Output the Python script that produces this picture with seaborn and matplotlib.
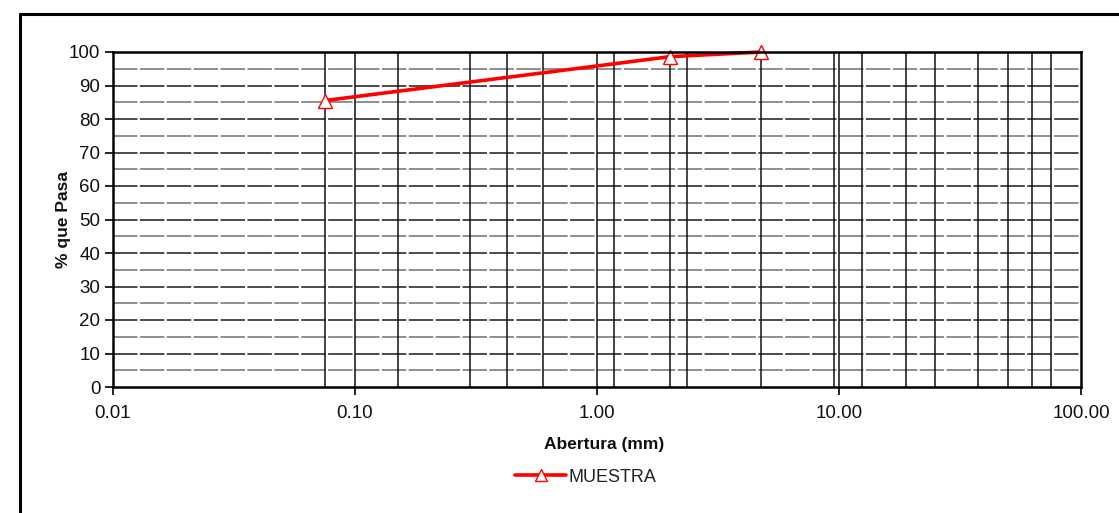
import matplotlib
matplotlib.use("Agg")
import matplotlib.pyplot as plt
from matplotlib.lines import Line2D
from matplotlib.ticker import FixedLocator, FixedFormatter, NullLocator
import seaborn as sns
import pandas as pd

# Granulometric curve data
abertura_mm = [0.075, 2.0, 4.75]
pct_pasa = [85.5, 98.6, 100.0]
serie = "MUESTRA"

# Sieve openings drawn as vertical reference lines (mm)
tamices = [0.075, 0.1, 0.15, 0.3, 0.425, 0.6, 1.0, 1.18, 2.0, 2.36, 4.75,
           9.5, 10.0, 12.5, 19.0, 25.0, 37.5, 50.0, 63.0, 75.0]

x_ticks = [0.01, 0.1, 1.0, 10.0, 100.0]
x_tick_labels = ["0.01", "0.10", "1.00", "10.00", "100.00"]
y_ticks = list(range(0, 101, 10))
y_minor = list(range(5, 100, 10))

sns.set_theme(style="white")
plt.rcParams["font.family"] = ["Liberation Sans", "DejaVu Sans"]

df = pd.DataFrame({"Abertura": abertura_mm, "Pasa": pct_pasa, "Serie": serie})

fig = plt.figure(figsize=(11.19, 5.13), dpi=100)
ax = fig.add_axes([113 / 1119, 1 - 387 / 513, (1081 - 113) / 1119, (387 - 52) / 513])

ax.set_xscale("log")
ax.set_xlim(0.01, 100)
ax.set_ylim(0, 100)

# Horizontal grid: dark dashes every 10, grey dashes at the 5s
for y in y_ticks[1:-1]:
    ax.axhline(y, color="#1a1a1a", lw=1.1, dashes=(16, 1.6), zorder=1)
for y in y_minor:
    ax.axhline(y, color="#707070", lw=1.1, dashes=(16, 1.6), zorder=1)

# Vertical sieve lines
for t in tamices:
    ax.axvline(t, color="#111111", lw=1.1, zorder=1)

sns.lineplot(data=df, x="Abertura", y="Pasa", hue="Serie", palette=["#ff0000"],
             marker="^", markersize=10, markerfacecolor="white",
             markeredgecolor="#ff0000", markeredgewidth=1.0,
             linewidth=2.6, ax=ax, zorder=5, clip_on=False, legend=False)

ax.xaxis.set_major_locator(FixedLocator(x_ticks))
ax.xaxis.set_major_formatter(FixedFormatter(x_tick_labels))
ax.xaxis.set_minor_locator(NullLocator())
ax.set_yticks(y_ticks)

ax.tick_params(axis="both", which="major", direction="out", length=6, width=1.2,
               color="black", labelsize=13.5, labelcolor="#111111", pad=3,
               bottom=True, left=True)
ax.tick_params(axis="x", pad=7)

for s in ax.spines.values():
    s.set_visible(True)
    s.set_color("black")
    s.set_linewidth(1.8)
    s.set_zorder(6)

ax.set_xlabel("Abertura (mm)", fontsize=12.5, fontweight="bold", color="#111111")
ax.set_ylabel("% que Pasa", fontsize=12.5, fontweight="bold", color="#111111")
ax.xaxis.set_label_coords(0.5 - (597 - 604) / 968, (387 - 437) / 335)
ax.yaxis.set_label_coords((71 - 113) / 968, 0.5)

handle = Line2D([], [], color="#ff0000", lw=2.6, marker="^", markersize=8,
                markerfacecolor="white", markeredgecolor="#ff0000",
                markeredgewidth=1.0)
fig.legend([handle], [serie], loc="center", bbox_to_anchor=(586 / 1119, 1 - 477 / 513),
           frameon=False, fontsize=13, handlelength=2.8, handletextpad=0.15,
           labelcolor="#222222")

# Outer frame (top and left edges)
fig.add_artist(Line2D([20 / 1119, 1.0], [1 - 14 / 513, 1 - 14 / 513],
                      color="black", lw=2.2, transform=fig.transFigure))
fig.add_artist(Line2D([20 / 1119, 20 / 1119], [0.0, 1 - 14 / 513],
                      color="black", lw=2.2, transform=fig.transFigure))

fig.savefig("out.png", dpi=100, facecolor="white")
